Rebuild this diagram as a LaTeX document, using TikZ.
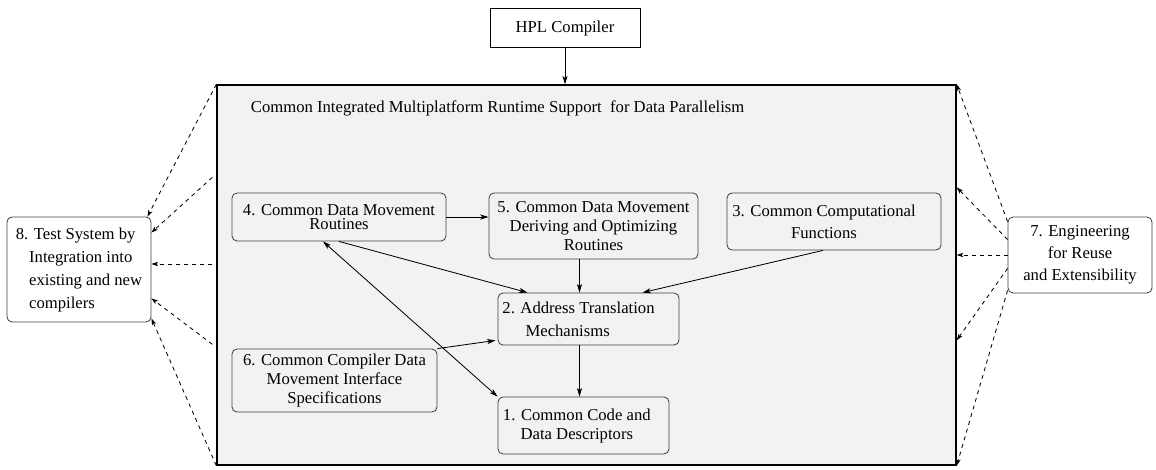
\documentclass[tikz,border=0pt]{standalone}
\usepackage{fontspec}
\setmainfont{Liberation Serif}
\usetikzlibrary{arrows.meta,calc}

\definecolor{panelgray}{gray}{0.95}

\begin{document}
\begin{tikzpicture}[x=0.6pt,y=-0.6pt,
    outer box/.style={draw=black,fill=panelgray,line width=0.8pt,
        minimum width=443.4pt,minimum height=228pt,inner sep=0pt},
    unit box/.style={draw=black!75,fill=panelgray,rounded corners=3pt,
        line width=0.5pt,align=center,inner sep=1pt},
    side box/.style={unit box,fill=white},
    compiler box/.style={draw=black,fill=white,line width=0.5pt,
        minimum width=90pt,minimum height=23.4pt},
    flow arrow/.style={line width=0.5pt,-{Stealth[length=5pt,width=3pt,inset=1.2pt]}},
    both arrow/.style={line width=0.5pt,{Stealth[length=5pt,width=3pt,inset=1.2pt]}-{Stealth[length=5pt,width=3pt,inset=1.2pt]}},
    reuse arrow/.style={line width=0.5pt,dash pattern=on 2.4pt off 2.4pt,
        -{Stealth[length=4pt,width=2.6pt,inset=1pt]}}
]
    \useasboundingbox (0,0) rectangle (1156,470);

    \node[compiler box] (hpl) at (565,28) {HPL Compiler};
    \node[outer box] (main) at (586.5,275) {};
    \node[anchor=west] (title) at (245,108)
        {Common Integrated Multiplatform Runtime Support\ \ for Data Parallelism};

    \node[unit box,minimum width=128.4pt,minimum height=28.8pt] (u4) at (339,217)
        {4. Common Data Movement\\[-3.5pt]Routines};
    \node[unit box,minimum width=125.4pt,minimum height=39.6pt] (u5) at (593.5,226)
        {5. Common Data Movement\\[-0.6pt]Deriving and Optimizing\\[-0.6pt]Routines};
    \node[unit box,minimum width=128.4pt,minimum height=34.2pt] (u3) at (834,221.5)
        {3. Common Computational\hspace*{12pt}\\[1pt]Functions\hspace*{12pt}};
    \node[unit box,minimum width=108.6pt,minimum height=31.2pt] (u2) at (588.5,319)
        {2. Address Translation\hspace*{12pt}\\[1.6pt]Mechanisms\hspace*{25pt}};
    \node[unit box,minimum width=123pt,minimum height=37.8pt] (u6) at (334.5,380.5)
        {6. Common Compiler Data\\[-0.6pt]Movement Interface\hspace*{14pt}\\[-0.6pt]Specifications};
    \node[unit box,minimum width=102.6pt,minimum height=34.2pt] (u1) at (583.5,425.5)
        {1. Common Code and\hspace*{8pt}\\[-0.6pt]Data Descriptors\hspace*{8pt}};

    \node[side box,minimum width=86.4pt,minimum height=63pt,align=left] (u8) at (79,269.5)
        {8. Test System by\\[1.8pt]\hspace*{8pt}Integration into\\[1.8pt]\hspace*{8pt}existing and new\\[1.8pt]\hspace*{8pt}compilers};
    \node[side box,minimum width=86.4pt,minimum height=45.6pt] (u7) at (1080,255)
        {7. Engineering\\[1.2pt]for Reuse\\[1.2pt]and Extensibility};

    % helper points on the boxes
    \coordinate (c2n) at ($(u2.north)+(-9,0)$);
    \coordinate (c2s) at ($(u2.south)+(-9,0)$);
    \coordinate (cml) at ($(main.west)+(-4,-11)$);

    % solid connectors
    \draw[flow arrow] (hpl.south) -- (hpl.south |- main.north);
    \draw[flow arrow] (u4.east) -- (u4.east -| u5.west);
    \draw[flow arrow] (u4.south) -- ($(u2.north)+(-61,0)$);
    \draw[flow arrow] (c2n |- u5.south) -- (c2n);
    \draw[flow arrow] ($(u3.south)+(-11,0)$) -- ($(u2.north)+(54,0)$);
    \draw[flow arrow] (u6.north east) -- ($(u2.south west)+(-2,-5)$);
    \draw[flow arrow] (c2s) -- (c2s |- u1.north);
    \draw[both arrow] ($(u4.south)+(-16,0)$) -- (u1.north west);

    % dashed connectors, left side
    \draw[reuse arrow] (main.north west) -- ($(u8.north east)+(-4,0)$);
    \draw[reuse arrow] ($(main.north west)+(-4,93)$) -- ($(u8.north east)+(0,16)$);
    \draw[reuse arrow] (cml) -- (cml -| u8.east);
    \draw[reuse arrow] ($(main.north west)+(-4,260)$) -- ($(u8.south east)+(0,-24)$);
    \draw[reuse arrow] (main.south west) -- ($(u8.south east)+(0,-4)$);

    % dashed connectors, right side
    \draw[reuse arrow] ($(u7.north west)+(0,5)$) -- (main.north east);
    \draw[reuse arrow] ($(u7.north west)+(0,23)$) -- ($(main.north east)+(0,103)$);
    \draw[reuse arrow] (u7.west) -- (u7.west -| main.east);
    \draw[reuse arrow] ($(u7.south west)+(0,-25)$) -- ($(main.north east)+(0,256)$);
    \draw[reuse arrow] ($(u7.south west)+(0,-3)$) -- (main.south east);

\end{tikzpicture}
\end{document}
